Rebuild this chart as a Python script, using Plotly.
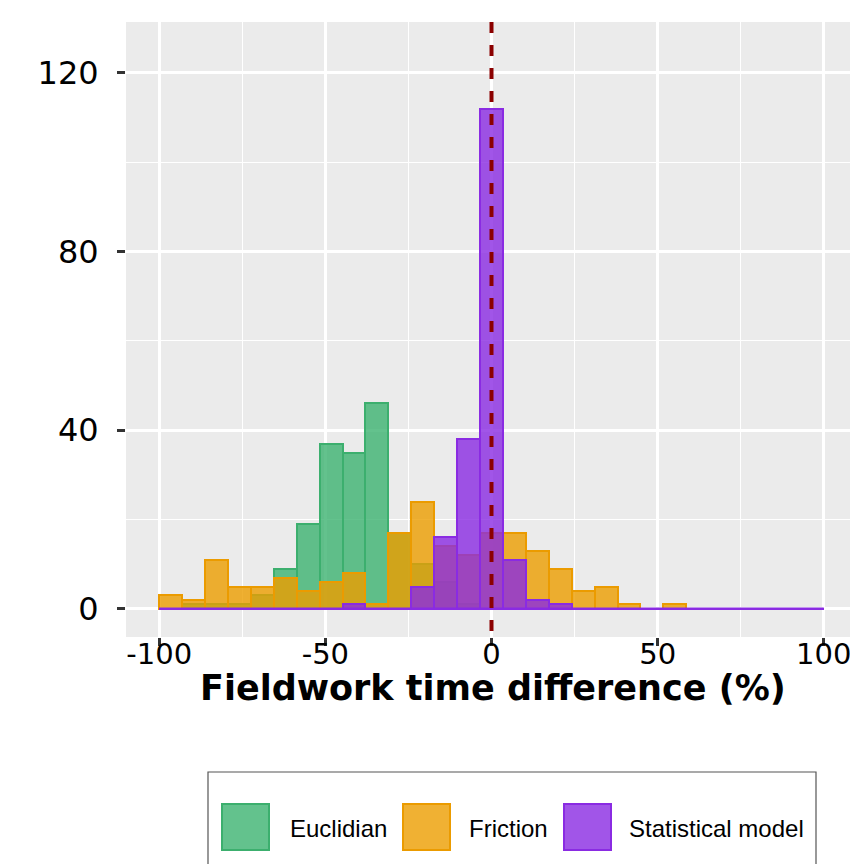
import numpy as np
import plotly.graph_objects as go

# ---- data (histogram counts, 29 bins spanning -100..100) ----
bin_start = -100
bin_end = 100
n_bins = 29
series_names = ["Euclidian", "Friction", "Statistical model"]
euclidian = [0, 1, 1, 1, 3, 9, 19, 37, 35, 46, 17, 10, 6, 1, 0,
             0, 0, 0, 0, 0, 0, 0, 0, 0, 0, 0, 0, 0, 0]
friction = [3, 2, 11, 5, 5, 7, 4, 6, 8, 1, 17, 24, 14, 12, 17,
            17, 13, 9, 4, 5, 1, 0, 1, 0, 0, 0, 0, 0, 0]
statistical = [0, 0, 0, 0, 0, 0, 0, 0, 1, 0, 0, 5, 16, 38, 112,
               11, 2, 1, 0, 0, 0, 0, 0, 0, 0, 0, 0, 0, 0]
x_ticks = [-100, -50, 0, 50, 100]
y_ticks = [0, 40, 80, 120]
x_title = "Fieldwork time difference (%)"

edges = np.linspace(bin_start, bin_end, n_bins + 1)
centers = (edges[:-1] + edges[1:]) / 2
bw = edges[1] - edges[0]

fills = ["rgba(60,179,113,0.8)", "rgba(236,158,0,0.8)", "rgba(138,43,226,0.8)"]
lines = ["rgb(60,175,110)", "rgb(235,155,0)", "rgb(138,43,226)"]

# page body has an 8px margin: work in screen pixels, convert to figure pixels
OFF = 8
W, H = 858 - OFF, 864 - OFF
L, T = 126 - OFF, 22 - OFF
PW = 857 - 126
PH = 637 - 22
R = W - L - PW
B = H - T - PH


def px_x(p):
    return (p - OFF - L) / PW


def px_y(p):
    return (H - B - (p - OFF)) / PH


fig = go.Figure()
for name, vals, fc, lc in zip(series_names, [euclidian, friction, statistical], fills, lines):
    fig.add_trace(go.Bar(
        x=centers, y=vals, width=bw, name=name,
        marker=dict(color=fc, line=dict(color=lc, width=2)),
        showlegend=False,
    ))

# zero-count bins drawn as a flat outline (as in ggplot)
fig.add_trace(go.Scatter(
    x=[edges[0], edges[-1]], y=[0, 0], mode="lines",
    line=dict(color=lines[2], width=2.5), showlegend=False, hoverinfo="skip",
))

shapes = [
    dict(type="line", xref="x", yref="paper", x0=0, x1=0, y0=1, y1=0,
         line=dict(color="#8B0000", width=4, dash="11px,12px"), layer="above"),
]

# custom legend (large keys as in ggplot)
shapes.append(dict(type="rect", xref="paper", yref="paper",
                   x0=px_x(208), x1=px_x(816), y0=px_y(772), y1=px_y(880),
                   line=dict(color="#555555", width=1.2), fillcolor="white"))
key_x = [222, 403, 564]
text_x = [288, 467, 627]
annotations = []
for i, name in enumerate(series_names):
    shapes.append(dict(type="rect", xref="paper", yref="paper",
                       x0=px_x(key_x[i]), x1=px_x(key_x[i] + 47),
                       y0=px_y(804), y1=px_y(850),
                       line=dict(color=lines[i], width=2), fillcolor=fills[i]))
    annotations.append(dict(text=name, xref="paper", yref="paper",
                            x=px_x(text_x[i]), y=px_y(828), xanchor="left", yanchor="middle",
                            showarrow=False,
                            font=dict(family="Liberation Sans, Arial", size=24, color="black")))

annotations.append(dict(text="<b>" + x_title + "</b>", xref="paper", yref="paper",
                        x=px_x(493), y=px_y(688), xanchor="center", yanchor="middle",
                        showarrow=False,
                        font=dict(family="DejaVu Sans", size=35, color="black")))

fig.update_layout(
    width=W, height=H,
    margin=dict(l=L, r=R, t=T, b=B),
    paper_bgcolor="white", plot_bgcolor="#EBEBEB",
    barmode="overlay", bargap=0,
    shapes=shapes, annotations=annotations,
    showlegend=False,
)
fig.update_xaxes(
    range=[-110, 110], tickvals=x_ticks, ticktext=[str(v) for v in x_ticks],
    showgrid=True, gridcolor="white", gridwidth=2.5,
    minor=dict(dtick=25, tick0=0, showgrid=True, gridcolor="white", gridwidth=1.3, ticks=""),
    zeroline=False, ticks="outside", ticklen=8, tickwidth=3, tickcolor="#333333",
    tickfont=dict(family="DejaVu Sans", size=29, color="black"),
    ticklabelstandoff=-17,
    showline=False,
)
fig.update_yaxes(
    range=[-6.3, 131.4], tickvals=y_ticks, ticktext=[str(v) for v in y_ticks],
    showgrid=True, gridcolor="white", gridwidth=2.5,
    minor=dict(dtick=20, tick0=0, showgrid=True, gridcolor="white", gridwidth=1.3, ticks=""),
    zeroline=False, ticks="outside", ticklen=8, tickwidth=3, tickcolor="#333333",
    tickfont=dict(family="DejaVu Sans", size=32, color="black"),
    ticklabelstandoff=12,
    showline=False,
)

fig.write_html("out.html")
